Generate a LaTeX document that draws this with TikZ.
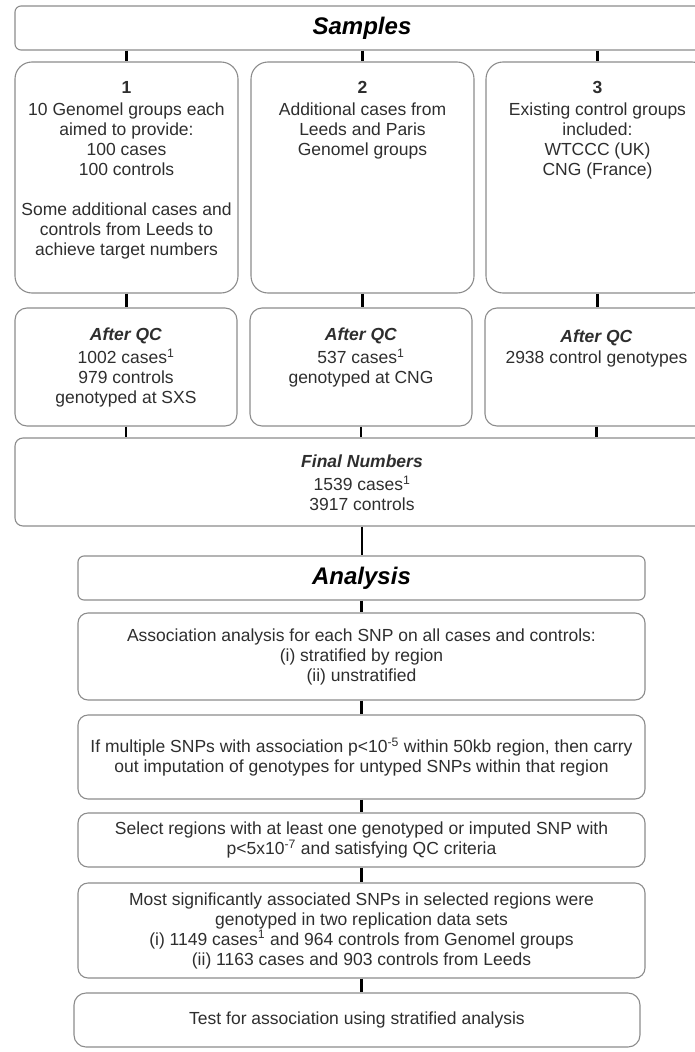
\documentclass[tikz,border=0pt]{standalone}
\usepackage{fontspec}
\setmainfont{Liberation Sans}
\usetikzlibrary{positioning}
\definecolor{boxgray}{HTML}{8C8C8C}
\definecolor{inkgray}{HTML}{2E2E2E}

\begin{document}
\begin{tikzpicture}[
    x=1pt, y=-1pt,
    box/.style={draw=boxgray, line width=1.1pt, rounded corners=#1, inner sep=0pt},
    box/.default=8pt,
    body/.style={font=\fontsize{17.5}{20}\selectfont, text=inkgray, align=center, inner sep=0pt},
    head/.style={font=\fontsize{24}{28}\selectfont\bfseries\itshape, text=black},
    link/.style={line width=2.4pt, black}
]

% SAME BOUNDING BOX
\path[use as bounding box] (0,0) rectangle (695,1052);
\clip (0,0) rectangle (695,1052);

% samples
\node[box=6pt, head, minimum width=694pt, minimum height=44pt] (samples) at (362,28) {Samples};

\node[box=17pt, minimum width=223pt, minimum height=231pt] (g1) at (126.5,177.5) {};
\node[box=17pt, minimum width=223pt, minimum height=231pt] (g2) at (362.5,177.5) {};
\node[box=17pt, minimum width=223pt, minimum height=231pt] (g3) at (597.5,177.5) {};

\node[body, below=19.5pt of g1.north] (g1text) {\textbf{1}\\[2pt] 10 Genomel groups each\\ aimed to provide:\\ 100 cases\\ 100 controls\\[20pt] Some additional cases and\\ controls from Leeds to\\ achieve target numbers};
\node[body, below=19.5pt of g2.north] (g2text) {\textbf{2}\\[2pt] Additional cases from\\ Leeds and Paris\\ Genomel groups};
\node[body, below=19.5pt of g3.north] (g3text) {\textbf{3}\\[2pt] Existing control groups\\ included:\\ WTCCC (UK)\\ CNG (France)};

% after qc
\node[box=12pt, minimum width=222pt, minimum height=118pt] (q1) at (126,367) {};
\node[box=12pt, minimum width=222pt, minimum height=118pt] (q2) at (361,367) {};
\node[box=12pt, minimum width=223pt, minimum height=118pt] (q3) at (596.5,367) {};

\node[body, below=20.5pt of q1.north] (q1text) {\textbf{\textit{After QC}}\\[3pt] 1002 cases\textsuperscript{1}\\ 979 controls\\ genotyped at SXS};
\node[body, below=20.5pt of q2.north] (q2text) {\textbf{\textit{After QC}}\\[3pt] 537 cases\textsuperscript{1}\\ genotyped at CNG};
\node[body, below=22.5pt of q3.north] (q3text) {\textbf{\textit{After QC}}\\[1pt] 2938 control genotypes};

\node[box=8pt, minimum width=694pt, minimum height=88pt] (final) at (362,482) {};
\node[body, below=17.5pt of final.north] (finaltext) {\textbf{\textit{Final Numbers}}\\[3pt] 1539 cases\textsuperscript{1}\\ 3917 controls};

% analysis
\node[box=6pt, head, minimum width=567pt, minimum height=44pt] (analysis) at (361.5,578) {Analysis};

\node[box=10pt, body, minimum width=567pt, minimum height=87pt] (assoc) at (361.5,656.5)
    {Association analysis for each SNP on all cases and controls:\\ (i) stratified by region\\ (ii) unstratified};
\node[box=10pt, body, minimum width=567pt, minimum height=84pt] (impute) at (361.5,757)
    {If multiple SNPs with association p<10\textsuperscript{-5} within 50kb region, then carry\\ out imputation of genotypes for untyped SNPs within that region};
\node[box=10pt, body, minimum width=567pt, minimum height=54pt] (select) at (361.5,840)
    {Select regions with at least one genotyped or imputed SNP with\\ p<5x10\textsuperscript{-7} and satisfying QC criteria};
\node[box=10pt, body, minimum width=567pt, minimum height=95pt] (replic) at (361.5,930.5)
    {Most significantly associated SNPs in selected regions were\\ genotyped in two replication data sets\\ (i) 1149 cases\textsuperscript{1} and 964 controls from Genomel groups\\ (ii) 1163 cases and 903 controls from Leeds};
\node[box=12pt, body, minimum width=566pt, minimum height=54pt] (test) at (357,1020)
    {Test for association using stratified analysis};

% links
\foreach \n in {1,2,3} {
    \draw[link] (samples.south -| g\n.north) -- (g\n.north);
    \draw[link] (g\n.south) -- (g\n.south |- q\n.north);
    \draw[link] (q\n.south) -- (final.north -| q\n.south);
}
\foreach \a/\b in {final/analysis, analysis/assoc, assoc/impute, impute/select, select/replic, replic/test}
    \draw[link] (\a.south) -- (\a.south |- \b.north);

\end{tikzpicture}
\end{document}
